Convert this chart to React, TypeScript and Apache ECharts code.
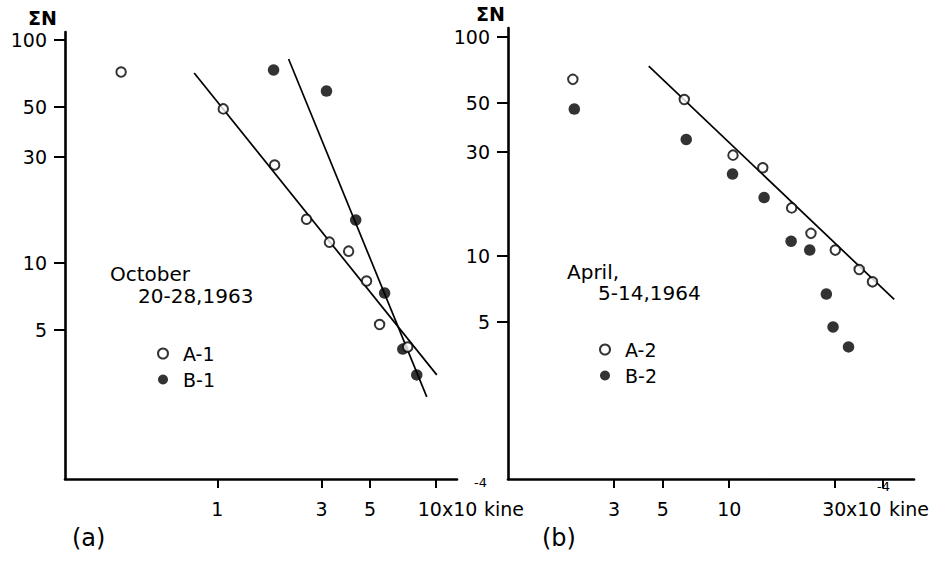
import React, { useEffect, useRef } from "react";
import * as echarts from "echarts";

// Panel (a): October 20-28, 1963
const A1_X = [0.363, 1.065, 1.83, 2.56, 3.26, 3.99, 4.82, 5.53, 7.44];
const A1_Y = [71.9, 49.1, 27.5, 15.7, 12.4, 11.3, 8.3, 5.3, 4.2];
const B1_X = [1.81, 3.16, 4.3, 5.83, 7.06, 8.18];
const B1_Y = [73.4, 59.0, 15.6, 7.33, 4.11, 3.15];
const FIT_A1_X = [0.784, 10.1];
const FIT_A1_Y = [71.1, 3.15];
const FIT_B1_X = [2.12, 9.09];
const FIT_B1_Y = [82.2, 2.51];

// Panel (b): April 5-14, 1964
const A2_X = [1.95, 6.25, 10.4, 14.2, 19.2, 23.5, 30.3, 38.9, 44.7];
const A2_Y = [64.1, 51.9, 28.9, 25.3, 16.6, 12.7, 10.65, 8.69, 7.63];
const B2_X = [1.98, 6.38, 10.35, 14.4, 19.1, 23.2, 27.6, 29.6, 34.8];
const B2_Y = [46.9, 34.1, 23.7, 18.5, 11.7, 10.65, 6.71, 4.75, 3.85];
const FIT_A2_X = [4.31, 56.1];
const FIT_A2_Y = [73.7, 6.34];

// Tick values
const Y_TICKS = [5, 10, 30, 50, 100];
const XA_TICKS = [1, 3, 5, 10];
const XB_TICKS = [3, 5, 10, 30, 50];
const XB_LABELS = [3, 5, 10, 30];

const FONT = "DejaVu Sans";
const BLACK = "#000";

const zip = (xs: number[], ys: number[]) => xs.map((x, i) => [x, ys[i]]);

function xAxisCfg(
  gridIndex: number,
  min: number,
  max: number,
  ticks: number[],
  labels: number[],
  shiftLast: number
) {
  const last = labels[labels.length - 1];
  return {
    type: "log",
    logBase: 10,
    gridIndex,
    min,
    max,
    axisLine: { show: true, onZero: false, lineStyle: { color: BLACK, width: 2.6 } },
    axisTick: { show: true, customValues: ticks, length: 9, lineStyle: { color: BLACK, width: 2 } },
    axisLabel: {
      customValues: labels,
      color: BLACK,
      fontSize: 19,
      fontFamily: FONT,
      margin: 20,
      formatter: (v: number) => {
        const s = String(Math.round(v));
        return Math.round(v) === last && shiftLast > 0 ? `{r|${s}}` : s;
      },
      rich: {
        r: { color: BLACK, fontSize: 19, fontFamily: FONT, padding: [0, shiftLast, 0, 0] },
      },
    },
    splitLine: { show: false },
    minorTick: { show: false },
    minorSplitLine: { show: false },
  };
}

function yAxisCfg(gridIndex: number, min: number, max: number, padRight: number) {
  return {
    type: "log",
    logBase: 10,
    gridIndex,
    min,
    max,
    name: "ΣN",
    nameLocation: "end",
    nameGap: 5,
    nameTextStyle: {
      color: BLACK,
      fontSize: 19,
      fontFamily: FONT,
      fontWeight: "bold",
      align: "right",
      verticalAlign: "bottom",
      padding: [0, padRight, 0, 0],
    },
    axisLine: { show: true, onZero: false, lineStyle: { color: BLACK, width: 2.6 } },
    axisTick: { show: true, customValues: Y_TICKS, length: 11, lineStyle: { color: BLACK, width: 2 } },
    axisLabel: {
      customValues: Y_TICKS,
      color: BLACK,
      fontSize: 19,
      fontFamily: FONT,
      margin: 18,
      formatter: (v: number) => String(Math.round(v)),
    },
    splitLine: { show: false },
    minorTick: { show: false },
    minorSplitLine: { show: false },
  };
}

const openStyle = { color: "#fff", borderColor: BLACK, borderWidth: 2 };
const filledStyle = { color: BLACK, borderColor: BLACK, borderWidth: 0 };

function fitLine(name: string, idx: number, xs: number[], ys: number[]) {
  return {
    name,
    type: "line",
    xAxisIndex: idx,
    yAxisIndex: idx,
    data: zip(xs, ys),
    symbol: "none",
    lineStyle: { color: BLACK, width: 1.7 },
    z: 2,
    silent: true,
  };
}

function scatter(name: string, idx: number, xs: number[], ys: number[], open: boolean) {
  return {
    name,
    type: "scatter",
    xAxisIndex: idx,
    yAxisIndex: idx,
    data: zip(xs, ys),
    symbol: "circle",
    symbolSize: open ? 9.5 : 11.5,
    itemStyle: open ? openStyle : filledStyle,
    z: open ? 4 : 3,
  };
}

function txt(text: string, left: number, top: number, fontSize = 20) {
  return {
    type: "text",
    left,
    top,
    style: { text, fill: BLACK, font: `${fontSize}px "${FONT}"` },
  };
}

const legendCfg = (names: string[], left: number, top: number) => ({
  data: names,
  left,
  top,
  orient: "vertical",
  itemWidth: 30,
  itemHeight: 10,
  itemGap: 7,
  selectedMode: false,
  textStyle: { color: BLACK, fontSize: 19, fontFamily: FONT },
});

export default function App() {
  const ref = useRef<HTMLDivElement>(null);
  useEffect(() => {
    if (!ref.current) return;
    const chart = echarts.init(ref.current, null, { renderer: "svg" });
    chart.setOption({
      animation: false,
      backgroundColor: "#fff",
      grid: [
        { left: 65, top: 32, width: 392, height: 447, containLabel: false },
        { left: 508, top: 28, width: 406, height: 451, containLabel: false },
      ],
      xAxis: [
        xAxisCfg(0, 0.201, 12.5, XA_TICKS, XA_TICKS, 12),
        xAxisCfg(1, 0.99, 69, XB_TICKS, XB_LABELS, 0),
      ],
      yAxis: [yAxisCfg(0, 1.075, 108.6, 8), yAxisCfg(1, 0.96, 110, 3)],
      legend: [legendCfg(["A-1", "B-1"], 152, 339), legendCfg(["A-2", "B-2"], 594, 335)],
      series: [
        fitLine("fitA1", 0, FIT_A1_X, FIT_A1_Y),
        fitLine("fitB1", 0, FIT_B1_X, FIT_B1_Y),
        scatter("A-1", 0, A1_X, A1_Y, true),
        scatter("B-1", 0, B1_X, B1_Y, false),
        fitLine("fitA2", 1, FIT_A2_X, FIT_A2_Y),
        scatter("A-2", 1, A2_X, A2_Y, true),
        scatter("B-2", 1, B2_X, B2_Y, false),
      ],
      graphic: [
        txt("October", 110, 264),
        txt("20-28,1963", 138, 286),
        txt("April,", 567, 262),
        txt("5-14,1964", 598, 283),
        txt("x10", 442, 499, 19),
        txt("-4", 474, 476, 13),
        txt("kine", 484, 499, 19),
        txt("x10", 846, 499, 19),
        txt("-4", 877, 480, 13),
        txt("kine", 889, 499, 19),
        txt("(a)", 72, 526, 24),
        txt("(b)", 542, 526, 24),
      ],
    });
    return () => chart.dispose();
  }, []);
  return (
    <div
      ref={ref}
      style={{ position: "fixed", left: 0, top: 0, width: 948, height: 561, background: "#fff" }}
    />
  );
}
